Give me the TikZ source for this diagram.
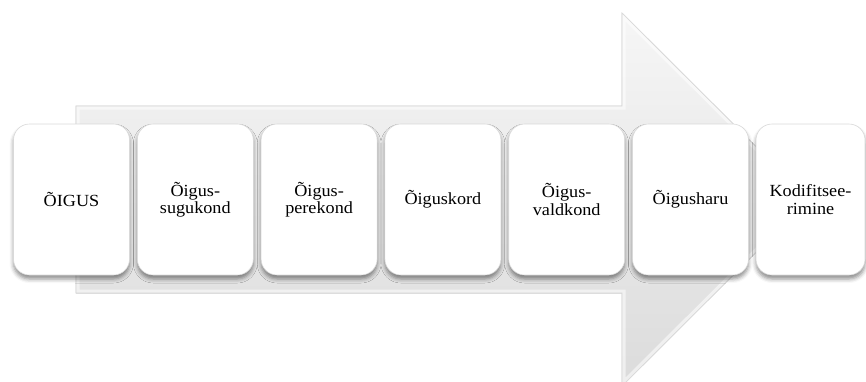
\documentclass[tikz,border=0pt]{standalone}
\usepackage{fontspec}
\setmainfont{Liberation Serif}[FakeStretch=1.07]
\usetikzlibrary{shadows.blur}
\begin{document}
\begin{tikzpicture}[x=1pt,y=-1pt,
  card/.style={draw=gray!30, line width=0.6pt, fill=white, rounded corners=16pt,
    minimum width=116pt, minimum height=151pt, align=center, inner sep=2pt,
    font=\fontsize{17}{17.5}\selectfont,
    blur shadow={shadow xshift=0pt, shadow yshift=-4pt, shadow blur radius=4pt, shadow opacity=45}},
  flowarrow/.style={top color=gray!7, bottom color=gray!28, draw=gray!30, line width=0.6pt},
]
\useasboundingbox (0,0) rectangle (866,381);

% broad background arrow
\def\arrowpath{(76,106) -- (622,106) -- (622,13) -- (809,199.5) -- (622,386) -- (622,293) -- (76,293) -- cycle}
\fill[flowarrow] \arrowpath;
\begin{scope}
  \clip \arrowpath;
  \draw[white, opacity=0.55, line width=7pt, line join=miter] \arrowpath;
\end{scope}
\draw[gray!30, line width=0.6pt] \arrowpath;

% steps
\node[card] (b1) at (71.5,199.5) {ÕIGUS};
\node[card] (b2) at (195.3,199.5) {Õigus-\\sugukond};
\node[card] (b3) at (319.1,199.5) {Õigus-\\perekond};
\node[card] (b4) at (442.9,199.5) {Õiguskord};
\node[card] (b5) at (566.7,199.5) {Õigus-\\valdkond};
\node[card] (b6) at (690.5,199.5) {Õigusharu};
\node[card, minimum width=109pt] (b7) at (810.5,199.5) {Kodifitsee-\\rimine};
\end{tikzpicture}
\end{document}
